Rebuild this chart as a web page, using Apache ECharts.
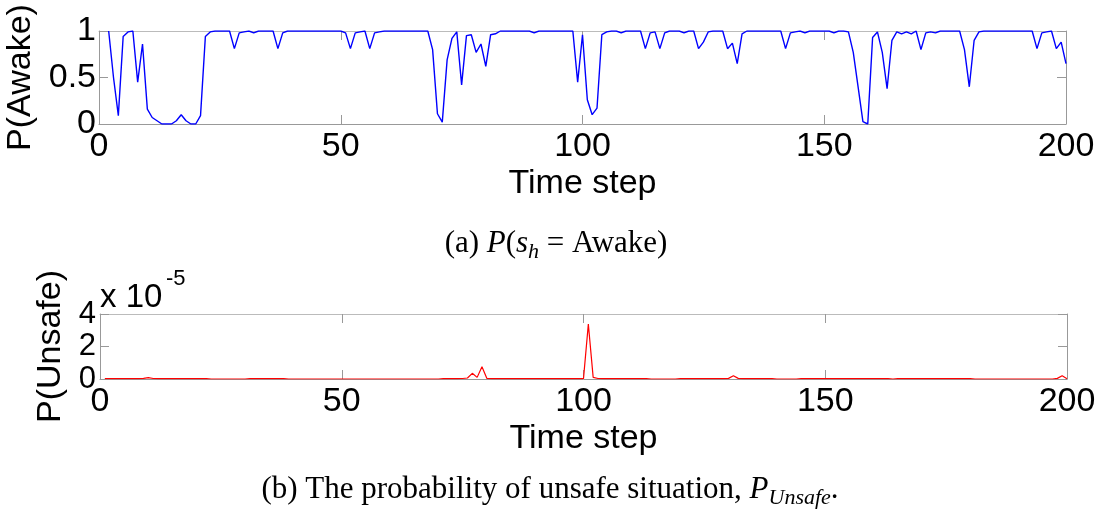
<!DOCTYPE html>
<html>
<head>
<meta charset="utf-8">
<script src="https://cdn.jsdelivr.net/npm/echarts@6/dist/echarts.min.js"></script>
<style>
  html, body { margin: 0; padding: 0; background: #fff; }
  #main { width: 1099px; height: 512px; }
</style>
</head>
<body>
<div id="main"></div>
<script>
// P(Awake) per time step, starting at step 2
let awakeStart = 2;
let pAwake = [
  1, 0.5, 0.09, 0.94, 0.99, 1, 0.45, 0.86, 0.16,            // 2-10
  0.07, 0.035, 0, 0, 0, 0.035, 0.1, 0.035, 0, 0,            // 11-20
  0.09, 0.94, 0.99, 1, 1, 1, 1, 0.81, 0.98, 0.99,           // 21-30
  1, 0.98, 1, 1, 1, 1, 0.81, 0.98, 1, 1,                    // 31-40
  1, 1, 1, 1, 1, 1, 1, 1, 1, 1,                             // 41-50
  0.98, 0.81, 0.98, 0.99, 1, 0.81, 0.98, 0.99, 1, 1,        // 51-60
  1, 1, 1, 1, 1, 1, 1, 1, 0.8, 0.11,                        // 61-70
  0.02, 0.69, 0.92, 0.99, 0.42, 0.95, 0.96, 0.77, 0.86, 0.62, // 71-80
  0.96, 0.97, 1, 1, 1, 1, 1, 1, 1, 0.98,                    // 81-90
  1, 1, 1, 1, 1, 1, 1, 1, 0.45, 0.96,                       // 91-100
  0.26, 0.1, 0.17, 0.96, 0.99, 1, 1, 0.98, 1, 1,            // 101-110
  1, 1, 0.81, 0.98, 0.99, 0.81, 0.98, 1, 1, 1,              // 111-120
  0.98, 1, 1, 0.81, 0.88, 0.99, 1, 1, 1, 0.81,              // 121-130
  0.87, 0.65, 0.97, 1, 1, 1, 1, 1, 1, 1,                    // 131-140
  1, 0.81, 0.98, 0.99, 1, 0.98, 1, 1, 1, 1,                 // 141-150
  1, 0.98, 1, 1, 0.99, 0.77, 0.4, 0.025, 0, 0.93,           // 151-160
  0.99, 0.77, 0.38, 0.9, 0.99, 0.97, 0.99, 0.97, 1, 0.8,    // 161-170
  0.98, 0.99, 0.98, 1, 1, 1, 1, 1, 0.8, 0.4,                // 171-180
  0.9, 0.99, 1, 1, 1, 1, 1, 1, 1, 1,                        // 181-190
  1, 1, 1, 0.81, 0.98, 0.99, 1, 0.81, 0.88, 0.65            // 191-200
];

// P(Unsafe) in units of 1e-5, starting at step 1
let unsafeStart = 1;
let pUnsafe = [
  0.02, 0.02, 0.02, 0.02, 0.02, 0.02, 0.02, 0.02, 0.04, 0.08, // 1-10
  0.03, 0.02, 0.02, 0.02, 0.02, 0.02, 0.02, 0.02, 0.02, 0.02, // 11-20
  0.02, 0.02, 0, 0, 0, 0, 0, 0, 0, 0,                         // 21-30
  0.02, 0.02, 0.02, 0.02, 0.02, 0.02, 0.02, 0.02, 0, 0,       // 31-40
  0, 0, 0, 0, 0, 0, 0, 0, 0, 0,                               // 41-50
  0, 0, 0, 0, 0, 0, 0, 0, 0, 0,                               // 51-60
  0, 0, 0, 0, 0, 0, 0, 0, 0, 0,                               // 61-70
  0.02, 0.02, 0.02, 0.02, 0.03, 0.06, 0.35, 0.1, 0.76, 0.04,  // 71-80
  0.02, 0.02, 0.02, 0.02, 0.02, 0.02, 0.02, 0.02, 0.02, 0.02, // 81-90
  0.02, 0.02, 0.02, 0.02, 0.02, 0.02, 0.02, 0.02, 0.02, 0.02, // 91-100
  3.38, 0.1, 0.03, 0.02, 0.02, 0.02, 0.02, 0.02, 0.02, 0.02,  // 101-110
  0.02, 0.02, 0.02, 0, 0, 0, 0, 0, 0, 0.02,                   // 111-120
  0.02, 0.02, 0.02, 0.02, 0.02, 0.02, 0.02, 0.02, 0.02, 0.04, // 121-130
  0.2, 0.04, 0.02, 0.02, 0.02, 0.02, 0.02, 0.02, 0.02, 0,     // 131-140
  0, 0, 0, 0, 0.02, 0.02, 0.02, 0.02, 0.02, 0.02,             // 141-150
  0.02, 0.02, 0.02, 0.02, 0.02, 0.02, 0.02, 0.02, 0.02, 0.02, // 151-160
  0.02, 0.02, 0.02, 0, 0.02, 0.02, 0.02, 0.02, 0.02, 0.02,    // 161-170
  0.02, 0.02, 0.02, 0.02, 0.02, 0.02, 0.02, 0.02, 0.02, 0.02, // 171-180
  0, 0, 0, 0, 0, 0, 0, 0, 0, 0,                               // 181-190
  0, 0, 0, 0, 0, 0, 0, 0.04, 0.2, 0.02                        // 191-200
];

let xMin = 0, xMax = 200, xStep = 50;
let awakeTicks = { min: 0, max: 1, step: 0.5 };
let unsafeTicks = { min: 0, max: 4, step: 2 };

let sans = 'Liberation Sans';
let serif = 'Liberation Serif';
let boxColor = '#999';
let axisFont = 34;

function toPairs(start, list) {
  return list.map(function (v, i) { return [start + i, v]; });
}

// plain box side: line + inward ticks, no labels
function sideAxis(gi, pos, lineColor) {
  return {
    gridIndex: gi, position: pos,
    axisLine: { show: true, onZero: false, lineStyle: { color: lineColor, width: 1 } },
    axisTick: { show: true, inside: true, length: 9, lineStyle: { color: boxColor } },
    axisLabel: { show: false },
    splitLine: { show: false }
  };
}

let xAxes = [], yAxes = [];
[0, 1].forEach(function (gi) {
  xAxes.push(Object.assign(sideAxis(gi, 'bottom', boxColor), {
    type: 'value', min: xMin, max: xMax, interval: xStep,
    name: 'Time step', nameLocation: 'middle', nameGap: 43,
    nameTextStyle: { fontFamily: sans, fontSize: axisFont, color: '#000' },
    axisLabel: { show: true, margin: 6, fontFamily: sans, fontSize: axisFont, color: '#000' }
  }));
  xAxes.push(Object.assign(sideAxis(gi, 'top', '#bbb'), {
    type: 'value', min: xMin, max: xMax, interval: xStep
  }));
});

yAxes.push(Object.assign(sideAxis(0, 'left', boxColor), {
  type: 'value', min: awakeTicks.min, max: awakeTicks.max, interval: awakeTicks.step,
  name: 'P(Awake)', nameLocation: 'middle', nameGap: 54,
  nameTextStyle: { fontFamily: sans, fontSize: axisFont, color: '#000' },
  axisLabel: {
    show: true, margin: 3, fontFamily: sans, fontSize: axisFont, color: '#000',
    showMinLabel: true, showMaxLabel: true, hideOverlap: false
  }
}));
yAxes.push(Object.assign(sideAxis(0, 'right', boxColor), {
  type: 'value', min: awakeTicks.min, max: awakeTicks.max, interval: awakeTicks.step
}));
yAxes.push(Object.assign(sideAxis(1, 'left', boxColor), {
  type: 'value', min: unsafeTicks.min, max: unsafeTicks.max, interval: unsafeTicks.step,
  name: 'P(Unsafe)', nameLocation: 'middle', nameGap: 21,
  nameTextStyle: { fontFamily: sans, fontSize: axisFont, color: '#000' },
  axisLabel: {
    show: true, margin: 4, fontFamily: sans, fontSize: 31, lineHeight: 24, color: '#000',
    showMinLabel: true, showMaxLabel: true, hideOverlap: false
  }
}));
yAxes.push(Object.assign(sideAxis(1, 'right', boxColor), {
  type: 'value', min: unsafeTicks.min, max: unsafeTicks.max, interval: unsafeTicks.step
}));

let chart = echarts.init(document.getElementById('main'), null, { renderer: 'canvas' });

let captionRich = {
  n: { fontFamily: serif, fontSize: 31, fill: '#000' },
  i: { fontFamily: serif, fontSize: 31, fontStyle: 'italic', fill: '#000' },
  sub: { fontFamily: serif, fontSize: 22, fontStyle: 'italic', fill: '#000', padding: [16, 0, 0, 0] }
};

let option = {
  backgroundColor: '#fff',
  animation: false,
  grid: [
    { left: 99, top: 31, width: 967, height: 93, containLabel: false, outerBoundsMode: 'none' },
    { left: 100, top: 314, width: 967, height: 65, containLabel: false, outerBoundsMode: 'none' }
  ],
  xAxis: xAxes,
  yAxis: yAxes,
  series: [
    {
      type: 'line', xAxisIndex: 0, yAxisIndex: 0,
      data: toPairs(awakeStart, pAwake),
      symbol: 'none', lineStyle: { color: '#0000ff', width: 1.4 }
    },
    {
      type: 'line', xAxisIndex: 2, yAxisIndex: 2,
      data: toPairs(unsafeStart, pUnsafe),
      symbol: 'none', lineStyle: { color: '#ff0000', width: 1.2 }
    }
  ],
  graphic: [
    {
      type: 'text', x: 556, y: 244,
      style: {
        text: '{n|(a) }{i|P}{n|(}{i|s}{sub|h}{n| = Awake)}',
        align: 'center', verticalAlign: 'middle', rich: captionRich
      }
    },
    {
      type: 'text', x: 550, y: 490,
      style: {
        text: '{n|(b) The probability of unsafe situation, }{i|P}{sub|Unsafe}{n|.}',
        align: 'center', verticalAlign: 'middle', rich: captionRich
      }
    },
    {
      type: 'text', x: 100, y: 298,
      style: { text: 'x 10', fontFamily: sans, fontSize: 33, fill: '#000', verticalAlign: 'middle' }
    },
    {
      type: 'text', x: 166, y: 279,
      style: { text: '-5', fontFamily: sans, fontSize: 22, fill: '#000', verticalAlign: 'middle' }
    }
  ]
};

chart.setOption(option);
</script>
</body>
</html>
